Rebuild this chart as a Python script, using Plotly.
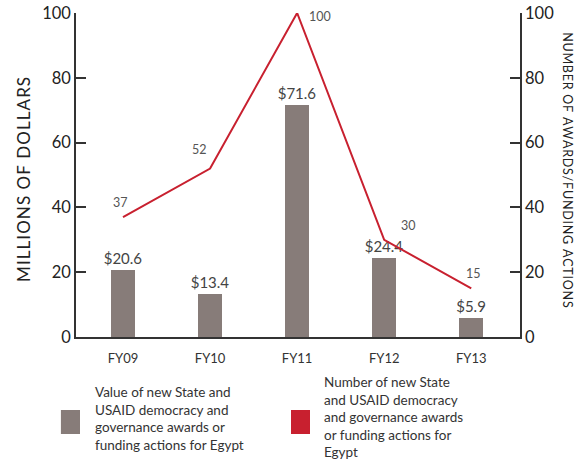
import plotly.graph_objects as go

# data
years = ['FY09', 'FY10', 'FY11', 'FY12', 'FY13']
award_value = [20.6, 13.4, 71.6, 24.4, 5.9]      # millions of dollars
award_count = [37, 52, 100, 30, 15]              # number of awards / funding actions
value_labels = ['$20.6', '$13.4', '$71.6', '$24.4', '$5.9']
count_labels = ['37', '52', '100', '30', '15']

bar_color = '#877c79'
line_color = '#c8202f'
font_family = 'Lato, Open Sans, sans-serif'

fig = go.Figure()

fig.add_trace(go.Bar(
    x=years, y=award_value, width=0.28,
    marker=dict(color=bar_color, line=dict(width=0)),
    text=value_labels, textposition='outside', cliponaxis=False,
    constraintext='none',
    textfont=dict(size=15, color='#444444'),
    showlegend=False,
))

fig.add_trace(go.Scatter(
    x=years, y=award_count, yaxis='y2', mode='lines',
    line=dict(color=line_color, width=2),
    cliponaxis=False, showlegend=False,
))

# count labels sit beside the line points
label_shift = [(-3, 15), (-11, 19), (23, -3), (24, 14), (2, 15)]
for yr, cnt, lab, (dx, dy) in zip(years, award_count, count_labels, label_shift):
    fig.add_annotation(x=yr, y=cnt, yref='y2', text=lab, showarrow=False,
                       xshift=dx, yshift=dy,
                       font=dict(size=12.5, color='#555555'))

axis_common = dict(range=[0, 100], tickvals=[0, 20, 40, 60, 80, 100],
                   showgrid=False, zeroline=False, showline=True, automargin=False,
                   ticklabeloverflow='allow',
                   linecolor='#333333', linewidth=1.5,
                   ticks='inside', ticklen=10, tickcolor='#333333', tickwidth=1.5,
                   tickfont=dict(size=16.5, color='#222222'))

fig.update_layout(
    width=578, height=471,
    margin=dict(l=76, r=58, t=13, b=134),
    paper_bgcolor='white', plot_bgcolor='white',
    font=dict(family=font_family),
    xaxis=dict(range=[-0.54, 4.56], showgrid=False, showline=True, automargin=False,
               linecolor='#333333', linewidth=1.5, ticks='', ticklabelstandoff=9,
               tickfont=dict(size=13, color='#333333')),
    yaxis=dict(side='left', **axis_common),
    yaxis2=dict(side='right', overlaying='y', **axis_common),
    bargap=0,
)

# axis titles (hair spaces give the wide letter spacing)
fig.add_annotation(text='\u200a'.join('MILLIONS OF DOLLARS'), xref='paper', yref='paper',
                   x=-0.117, y=0.485, xanchor='center', yanchor='middle',
                   textangle=-90, showarrow=False,
                   font=dict(size=17, color='#222222'))
fig.add_annotation(text='\u200a'.join('NUMBER OF AWARDS/FUNDING ACTIONS'),
                   xref='paper', yref='paper',
                   x=1.108, y=0.515, xanchor='center', yanchor='middle',
                   textangle=90, showarrow=False,
                   font=dict(size=12.5, color='#222222'))

# legend built by hand
fig.add_shape(type='rect', xref='paper', yref='paper',
              x0=-0.034, x1=0.009, y0=-0.2994, y1=-0.2253,
              fillcolor=bar_color, line=dict(width=0))
fig.add_shape(type='rect', xref='paper', yref='paper',
              x0=0.4842, x1=0.527, y0=-0.2994, y1=-0.2253,
              fillcolor=line_color, line=dict(width=0))
fig.add_annotation(text='Value of new State and<br>USAID democracy and<br>governance awards or<br>funding actions for Egypt',
                   xref='paper', yref='paper', x=0.0383, y=-0.253,
                   xanchor='left', yanchor='middle', align='left', showarrow=False,
                   font=dict(size=13.5, color='#333333'))
fig.add_annotation(text='Number of new State<br>and USAID democracy<br>and governance awards<br>or funding actions for<br>Egypt',
                   xref='paper', yref='paper', x=0.554, y=-0.248,
                   xanchor='left', yanchor='middle', align='left', showarrow=False,
                   font=dict(size=13.5, color='#333333'))

# drop the default 8px body margin so the figure fills the window exactly
fig.write_html('out.html', config={'displayModeBar': False},
               post_script="document.body.style.margin = '0';")
